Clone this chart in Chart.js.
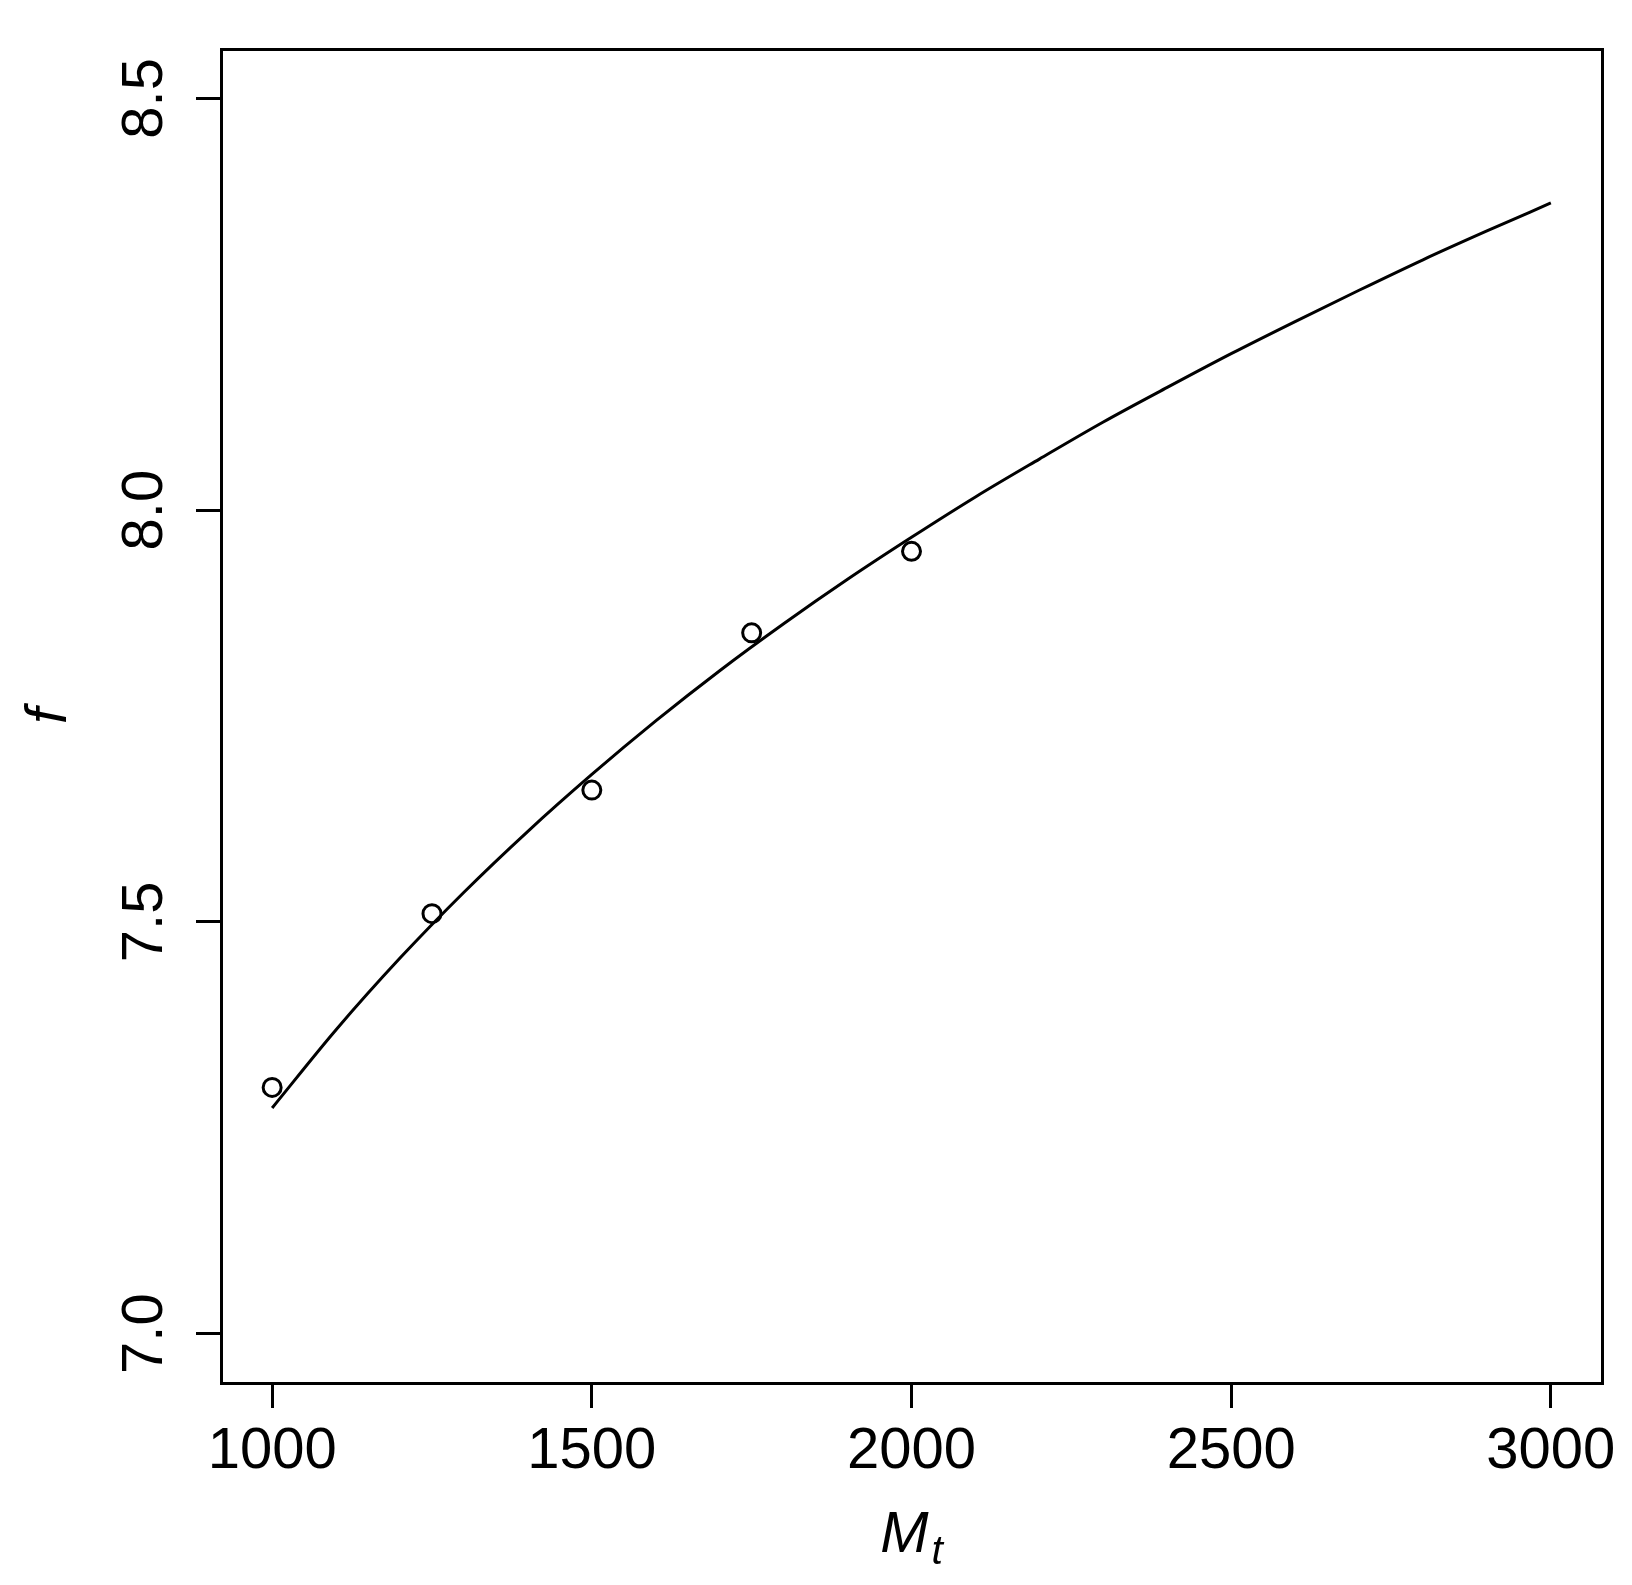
<!DOCTYPE html>
<html>
<head>
<meta charset="utf-8">
<script src="https://cdn.jsdelivr.net/npm/chart.js@4"></script>
<style>
  body { margin: 0; background: #fff; }
  #wrap { width: 1632px; height: 1585px; }
</style>
</head>
<body>
<div id="wrap"><canvas id="myChart" width="1632" height="1585"></canvas></div>
<script>
// observed points
const massPoints = [1000, 1250, 1500, 1750, 2000];
const fPoints = [7.299, 7.510, 7.660, 7.851, 7.950];

// fitted curve, every 100
const massCurve = [1000, 1100, 1200, 1300, 1400, 1500, 1600, 1700, 1800, 1900, 2000,
  2100, 2200, 2300, 2400, 2500, 2600, 2700, 2800, 2900, 3000];
const fCurve = [7.274, 7.369, 7.456, 7.536, 7.610, 7.679, 7.744, 7.805, 7.862, 7.916, 7.967,
  8.016, 8.062, 8.107, 8.149, 8.190, 8.229, 8.267, 8.304, 8.339, 8.373];

const xTicks = [1000, 1500, 2000, 2500, 3000];
const xTickLabels = ["1000", "1500", "2000", "2500", "3000"];
const yTicks = [7.0, 7.5, 8.0, 8.5];
const yTickLabels = ["7.0", "7.5", "8.0", "8.5"];

const FONT = "'Liberation Sans', Arial, sans-serif";
Chart.defaults.font.family = FONT;
Chart.defaults.color = "#000";

// frame around the plot + the x axis title with subscript
const framePlugin = {
  id: "frame",
  afterDraw(chart) {
    const a = chart.chartArea;
    const ctx = chart.ctx;
    ctx.save();
    ctx.lineWidth = 3;
    ctx.strokeStyle = "#000";
    ctx.strokeRect(a.left + 0.5, a.top + 0.5, a.right - a.left, a.bottom - a.top);

    ctx.fillStyle = "#000";
    ctx.textBaseline = "alphabetic";
    ctx.textAlign = "left";
    ctx.font = "italic 58px " + FONT;
    const wM = ctx.measureText("M").width;
    ctx.font = "italic 41px " + FONT;
    const wT = ctx.measureText("t").width;
    const x0 = (a.left + a.right) / 2 - (wM + wT + 3) / 2;
    ctx.font = "italic 58px " + FONT;
    ctx.fillText("M", x0, 1552);
    ctx.font = "italic 41px " + FONT;
    ctx.fillText("t", x0 + wM + 3, 1564);
    ctx.restore();
  }
};

const chartPlace = document.getElementById("myChart");
const myChart = new Chart(chartPlace, {
  type: "scatter",
  data: {
    datasets: [
      {
        label: "curve",
        type: "line",
        data: massCurve.map((m, i) => ({ x: m, y: fCurve[i] })),
        borderColor: "#000",
        borderWidth: 3,
        pointRadius: 0,
        fill: false,
        cubicInterpolationMode: "monotone"
      },
      {
        label: "points",
        data: massPoints.map((m, i) => ({ x: m, y: fPoints[i] })),
        pointStyle: "circle",
        pointRadius: 9,
        pointBorderWidth: 3,
        borderColor: "#000",
        backgroundColor: "rgba(0,0,0,0)"
      }
    ]
  },
  options: {
    responsive: false,
    animation: false,
    layout: { padding: { top: 49, right: 30, bottom: 0, left: 0 } },
    plugins: {
      legend: { display: false },
      tooltip: { enabled: false }
    },
    scales: {
      x: {
        type: "linear",
        min: 920,
        max: 3080,
        afterBuildTicks: (s) => { s.ticks = xTicks.map(v => ({ value: v })); },
        afterFit: (s) => { s.height = 202; },
        border: { display: false },
        grid: { drawOnChartArea: false, drawTicks: true, tickLength: 25, color: "#000", lineWidth: 3 },
        ticks: {
          font: { size: 58 },
          padding: 9,
          maxRotation: 0,
          autoSkip: false,
          callback: (v) => xTickLabels[xTicks.indexOf(v)]
        }
      },
      y: {
        type: "linear",
        min: 6.94,
        max: 8.56,
        afterBuildTicks: (s) => { s.ticks = yTicks.map(v => ({ value: v })); },
        afterFit: (s) => { s.width = 221; },
        border: { display: false },
        grid: { drawOnChartArea: false, drawTicks: true, tickLength: 25, color: "#000", lineWidth: 3 },
        ticks: {
          font: { size: 58 },
          padding: 10,
          minRotation: 90,
          maxRotation: 90,
          crossAlign: "center",
          autoSkip: false,
          callback: (v) => yTickLabels[yTicks.indexOf(v)]
        },
        title: {
          display: true,
          text: "f",
          font: { size: 58, style: "italic" },
          padding: { top: 15, bottom: 0 }
        }
      }
    }
  },
  plugins: [framePlugin]
});
</script>
</body>
</html>
